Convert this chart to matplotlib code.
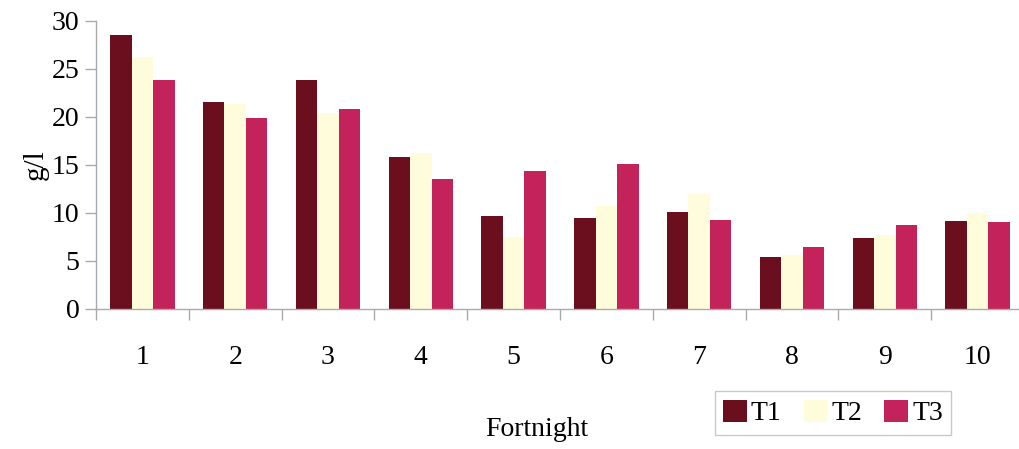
import matplotlib
matplotlib.use("Agg")
import matplotlib.pyplot as plt
import numpy as np

fortnights = ["1", "2", "3", "4", "5", "6", "7", "8", "9", "10"]
t1 = [28.5, 21.6, 23.9, 15.8, 9.7, 9.45, 10.1, 5.4, 7.4, 9.2]
t2 = [26.3, 21.4, 20.4, 16.2, 7.5, 10.7, 12.0, 5.6, 7.7, 10.0]
t3 = [23.9, 19.9, 20.8, 13.5, 14.4, 15.1, 9.3, 6.5, 8.8, 9.1]
series_names = ["T1", "T2", "T3"]
series_colors = ["#6B0F1E", "#FFFCDC", "#C4225A"]
y_ticks = [0, 5, 10, 15, 20, 25, 30]

plt.rcParams["font.family"] = ["Liberation Serif", "DejaVu Serif"]

W, H = 1019, 449
fig = plt.figure(figsize=(W / 100, H / 100), dpi=100)
left, right, bottom, top = 96, 1024, 309, 21
ax = fig.add_axes([left / W, (H - bottom) / H, (right - left) / W, (bottom - top) / H])

x = np.arange(len(fortnights))
bw = 0.232
for i, (vals, name, col) in enumerate(zip([t1, t2, t3], series_names, series_colors)):
    ax.bar(x + (i - 1) * bw, vals, width=bw, color=col, label=name, zorder=2)

ax.set_xlim(-0.5, len(fortnights) - 0.5)
ax.set_ylim(0, 30)
ax.set_yticks(y_ticks)
ax.set_yticklabels([str(v) for v in y_ticks], fontsize=20)
ax.set_xticks(x)
ax.set_xticklabels(fortnights, fontsize=20)
ax.set_xticks(np.arange(len(fortnights) + 1) - 0.5, minor=True)
ax.tick_params(axis="x", which="major", length=0, pad=26)
ax.tick_params(axis="x", which="minor", length=8, color="#AAAAAA", width=1)
ax.tick_params(axis="y", length=8, color="#AAAAAA", width=1, pad=4)

for s in ["top", "right"]:
    ax.spines[s].set_visible(False)
for s in ["left", "bottom"]:
    ax.spines[s].set_color("#AAAAAA")
    ax.spines[s].set_linewidth(1)

ax.set_ylabel("g/l", fontsize=21, labelpad=2)
fig.text(537 / W, 1 - 430 / H, "Fortnight", fontsize=20, ha="center", va="center")

leg = fig.legend(loc="center", bbox_to_anchor=(833 / W, 1 - 413 / H), ncol=3,
                 fontsize=20, frameon=True, fancybox=False, handlelength=0.85,
                 handleheight=0.85, handletextpad=0.15, columnspacing=0.8,
                 borderpad=0.3, borderaxespad=0)
leg.get_frame().set_edgecolor("#BBBBBB")
leg.get_frame().set_linewidth(1)

fig.savefig("out.png", dpi=100)
